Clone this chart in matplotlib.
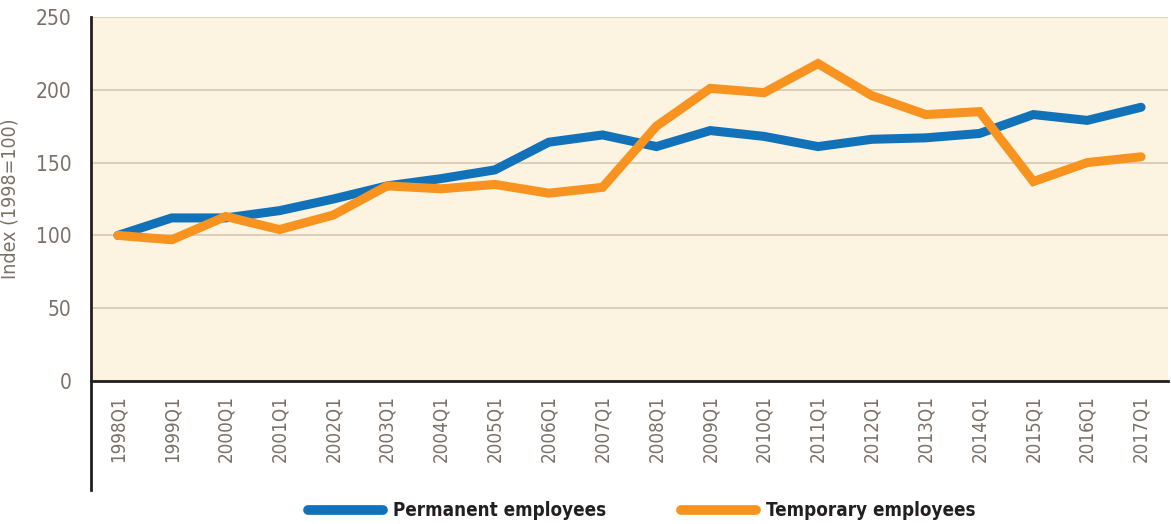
import matplotlib
matplotlib.use('Agg')
import matplotlib.pyplot as plt
from matplotlib.lines import Line2D

plt.rcParams['font.family'] = ['DejaVu Sans']
plt.rcParams['font.stretch'] = 'condensed'

quarters = [f"{y}Q1" for y in range(1998, 2018)]
permanent = [100, 112, 112, 117, 125, 134, 139, 145, 164, 169, 161, 172, 168, 161,
             166, 167, 170, 183, 179, 188]
temporary = [100, 97, 113, 104, 114, 134, 132, 135, 129, 133, 175, 201, 198, 218,
             196, 183, 185, 137, 150, 154]

BLUE = '#1172ba'
ORANGE = '#f7931e'
TXT = '#7a7068'

fig = plt.figure(figsize=(11.71, 5.24), dpi=100)
ax = fig.add_axes([91 / 1171, 1 - 381 / 524, 1077 / 1171, 364 / 524])
ax.set_facecolor('#fdf3e1')

x = range(len(quarters))
ax.plot(x, permanent, color=BLUE, lw=6.5, solid_capstyle='round', solid_joinstyle='miter', zorder=3)
ax.plot(x, temporary, color=ORANGE, lw=6.5, solid_capstyle='round', solid_joinstyle='miter', zorder=4)

ax.set_xlim(-0.5, len(quarters) - 0.5)
ax.set_ylim(0, 250)
ax.set_yticks(range(0, 251, 50))
ax.set_xticks(list(x))
ax.set_xticklabels(quarters, rotation=90, fontsize=13.5, color=TXT)
ax.tick_params(axis='y', labelsize=15, labelcolor=TXT, length=0, pad=14)
ax.tick_params(axis='x', length=0, pad=10)
ax.grid(axis='y', color='#d9cbb3', lw=1.3)
ax.set_axisbelow(True)

for s in ['top', 'right']:
    ax.spines[s].set_visible(False)
ax.spines['bottom'].set_color('#231f20')
ax.spines['bottom'].set_linewidth(2)
ax.spines['left'].set_visible(False)
ax.plot([0, 0], [-0.30, 1.0], transform=ax.transAxes, color='#231f20', lw=2,
        clip_on=False, zorder=5)

ax.set_ylabel('Index (1998=100)', fontsize=14, color=TXT, labelpad=8)
ax.yaxis.set_label_coords(-0.066, 0.5)

handles = [Line2D([], [], color=BLUE, lw=7, solid_capstyle='round'),
           Line2D([], [], color=ORANGE, lw=7, solid_capstyle='round')]
fig.legend(handles, ['Permanent employees', 'Temporary employees'],
           loc='center', bbox_to_anchor=(0.548, 1 - 511 / 524), ncol=2, frameon=False,
           handlelength=4.0, columnspacing=4.0, handletextpad=0.55,
           prop={'weight': 'bold', 'size': 13.5, 'stretch': 'condensed'}, labelcolor='#231f20')

fig.savefig('out.png', dpi=100)
